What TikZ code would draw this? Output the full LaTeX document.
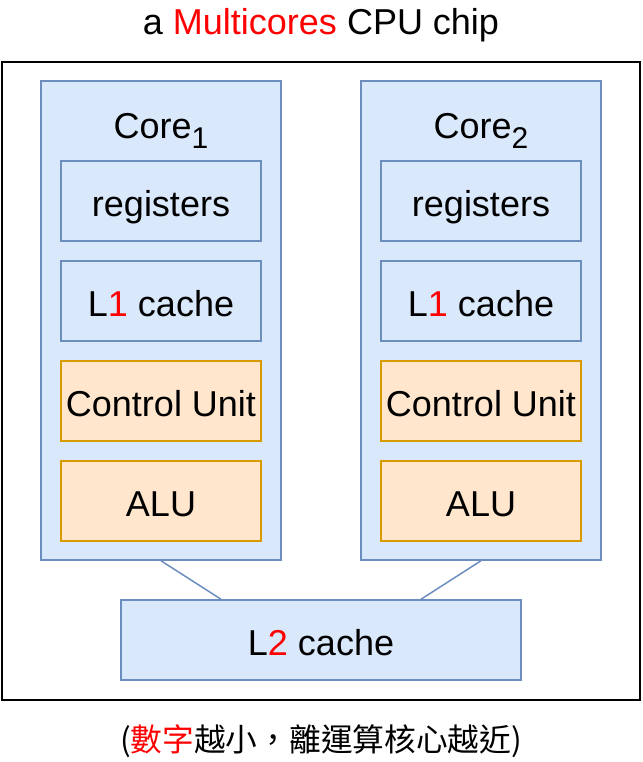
\documentclass[tikz,border=0pt]{standalone}
\usepackage{fontspec}
\setmainfont{Liberation Sans}
\newfontfamily\cjk{Noto Sans CJK TC}
\definecolor{bfill}{HTML}{DAE8FC}
\definecolor{bdraw}{HTML}{6C8EBF}
\definecolor{ofill}{HTML}{FFE6CC}
\definecolor{odraw}{HTML}{D79B00}
\definecolor{txtred}{HTML}{FF0000}
\newcommand{\mysub}[1]{\raisebox{-10pt}{\fontsize{30}{30}\selectfont #1}}
\begin{document}
\begin{tikzpicture}[x=1pt,y=-1pt,
  bluebox/.style={draw=bdraw,fill=bfill,line width=1.5pt,inner sep=0pt},
  orangebox/.style={draw=odraw,fill=ofill,line width=1.5pt,inner sep=0pt},
  unitbox/.style={minimum width=200pt,minimum height=80pt},
  lbl/.style={font=\fontsize{36}{42}\selectfont},
  boxtext/.style={lbl,text height=31pt,text depth=0pt},
  link/.style={draw=bdraw,line width=1.5pt}]
\useasboundingbox (0,0) rectangle (642,762);
\node[lbl,anchor=base,inner sep=0pt] (title) at (321,35) {a \textcolor{txtred}{Multicores} CPU chip};
\node[draw=black,line width=2pt,minimum width=638pt,minimum height=638pt,inner sep=0pt] (chip) at (321,381) {};
% core 1
\node[bluebox,minimum width=240pt,minimum height=479pt] (core1) at (161,320.5) {};
\node[lbl,anchor=base,inner sep=0pt] (c1lbl) at (161,139) {Core\mysub{1}};
\node[bluebox,unitbox,boxtext] (reg1) at (161,201) {registers};
\node[bluebox,unitbox,boxtext] (l1a) at (161,301) {L\textcolor{txtred}{1} cache};
\node[orangebox,unitbox,boxtext] (cu1) at (161,401) {Control Unit};
\node[orangebox,unitbox,boxtext] (alu1) at (161,501) {ALU};
% core 2
\node[bluebox,minimum width=240pt,minimum height=479pt] (core2) at (481,320.5) {};
\node[lbl,anchor=base,inner sep=0pt] (c2lbl) at (481,139) {Core\mysub{2}};
\node[bluebox,unitbox,boxtext] (reg2) at (481,201) {registers};
\node[bluebox,unitbox,boxtext] (l1b) at (481,301) {L\textcolor{txtred}{1} cache};
\node[orangebox,unitbox,boxtext] (cu2) at (481,401) {Control Unit};
\node[orangebox,unitbox,boxtext] (alu2) at (481,501) {ALU};
% L2
\node[bluebox,minimum width=400pt,minimum height=80pt,boxtext] (l2) at (321,640) {L\textcolor{txtred}{2} cache};
\draw[link] (core1.south) -- ([xshift=-100pt]l2.north);
\draw[link] (core2.south) -- ([xshift=100pt]l2.north);
\node[font=\cjk\fontsize{31.7}{36}\selectfont] (note) at (321,741) {(\textcolor{txtred}{數字}越小，離運算核心越近)};
\end{tikzpicture}
\end{document}
